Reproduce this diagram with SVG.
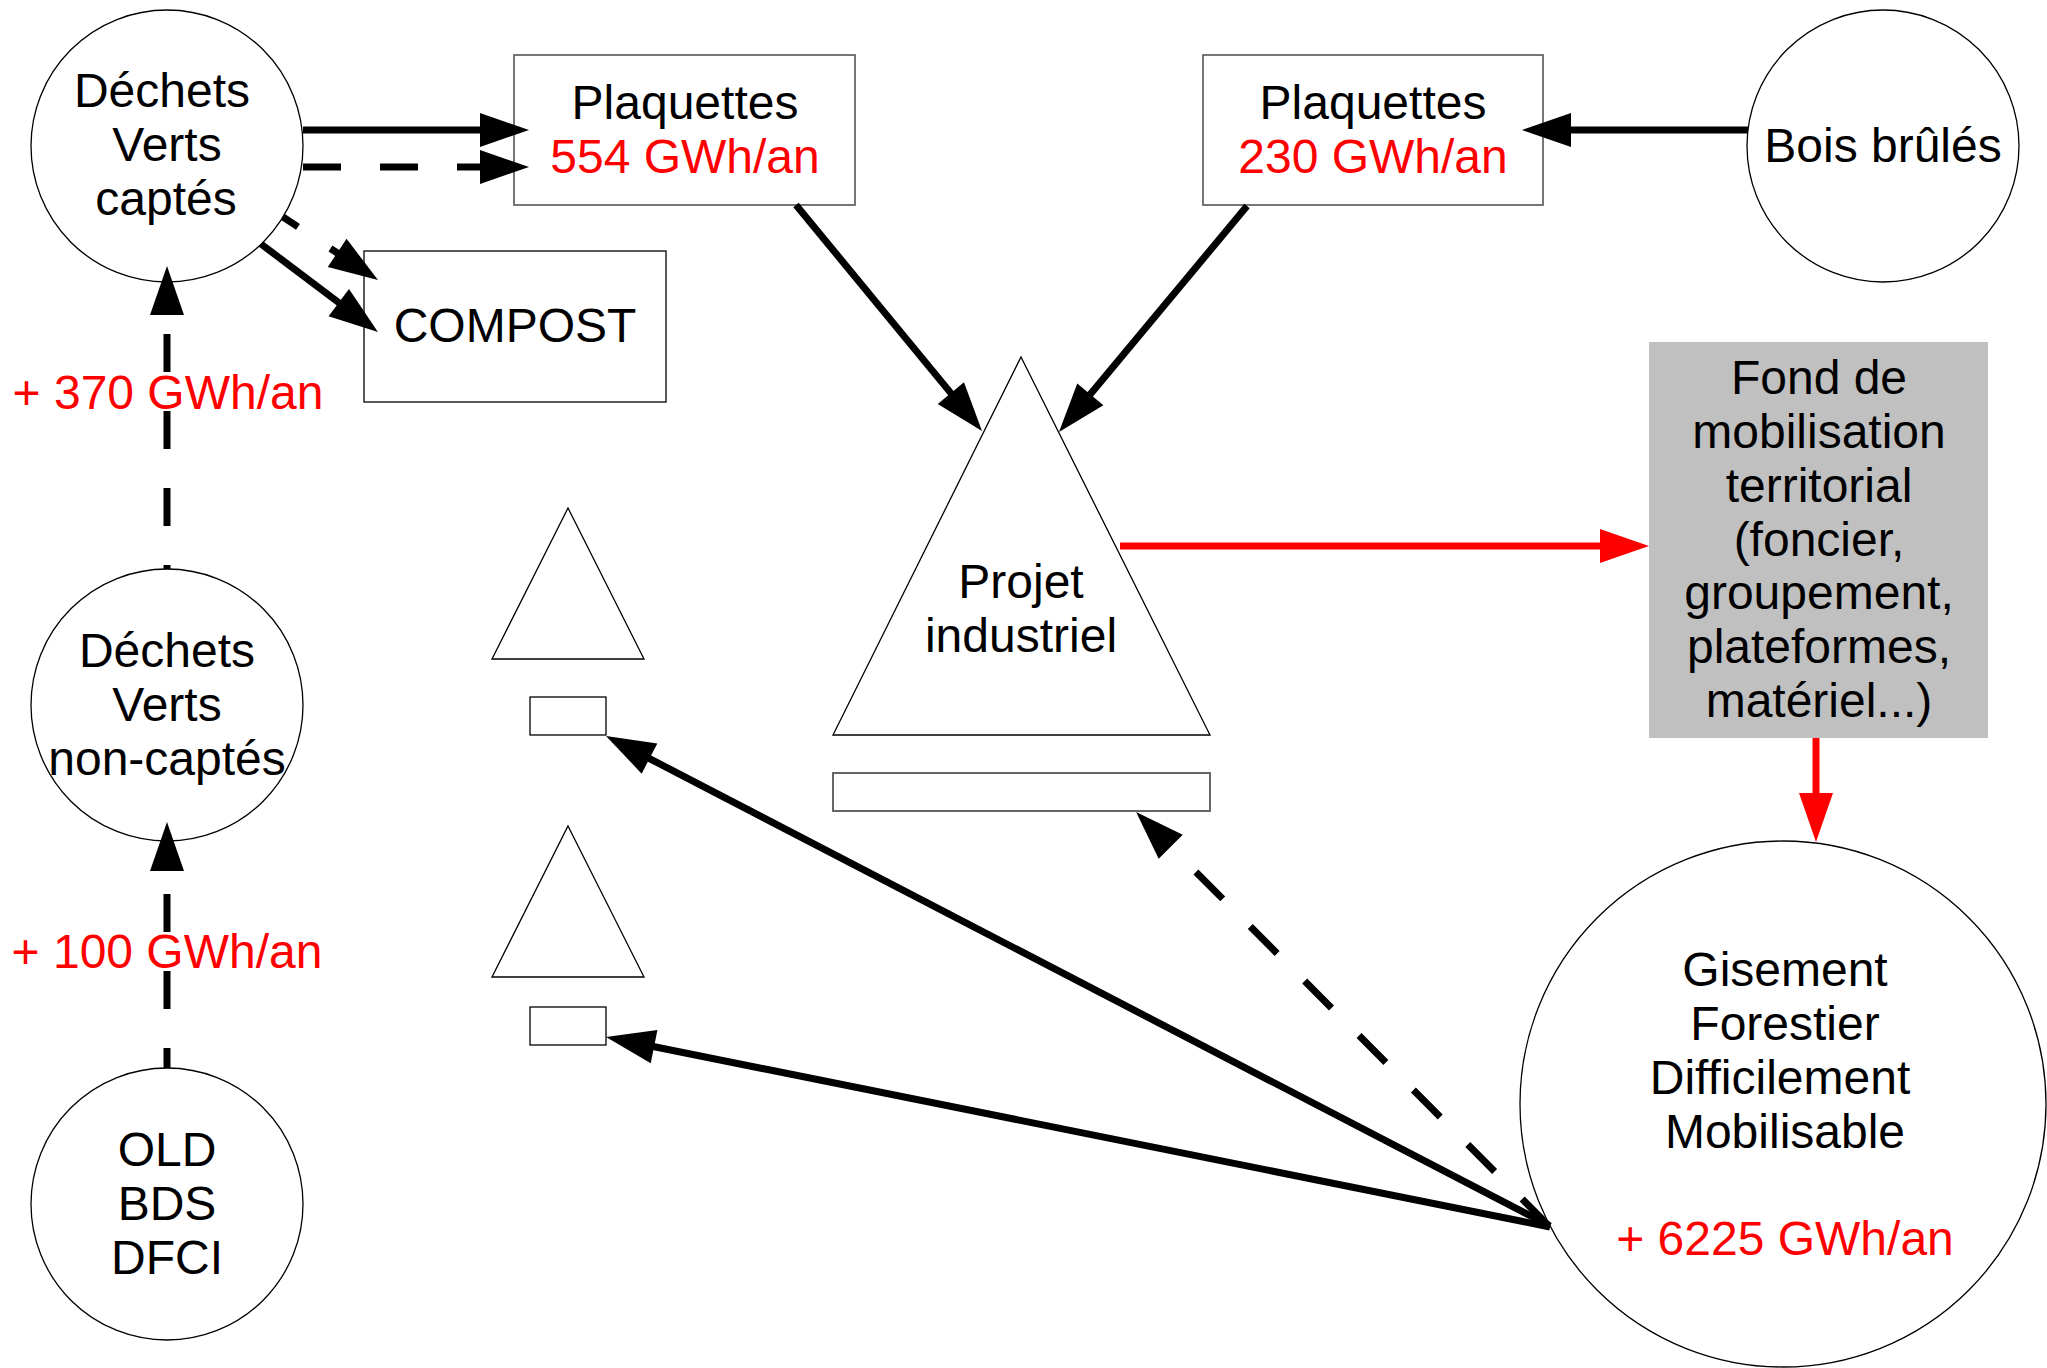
<svg xmlns="http://www.w3.org/2000/svg" width="2047" height="1368" viewBox="0 0 2047 1368">
  <style>
    text { font-family: "Liberation Sans", Arial, sans-serif; font-size: 48px; text-anchor: middle; fill: #000; }
    .val { fill: #ff0000; }
    .shape { fill: #fff; stroke: #000; stroke-width: 1.3; }
    .box { fill: #fff; stroke: #555; stroke-width: 1.6; }
    .line { fill: none; stroke: #000; stroke-width: 7; }
    .dash { stroke-dasharray: 38 39; }
    .red { fill: none; stroke: #ff0000; stroke-width: 7; }
  </style>
  <defs>
    <marker id="ah" markerUnits="userSpaceOnUse" markerWidth="50" markerHeight="34" refX="1" refY="17" orient="auto" overflow="visible">
      <path d="M0,0 L49,17 L0,34 Z" fill="#000"/>
    </marker>
    <marker id="ahRed" markerUnits="userSpaceOnUse" markerWidth="50" markerHeight="34" refX="1" refY="17" orient="auto" overflow="visible">
      <path d="M0,0 L49,17 L0,34 Z" fill="#ff0000"/>
    </marker>
  </defs>

  <rect width="2047" height="1368" fill="#fff"/>

  <g id="dv-captes">
    <circle class="shape" cx="167" cy="146" r="136"/>
    <text x="162" y="107">Déchets</text>
    <text x="167" y="161">Verts</text>
    <text x="166" y="215">captés</text>
  </g>

  <g id="dv-non-captes">
    <circle class="shape" cx="167" cy="705" r="136"/>
    <text x="167" y="667">Déchets</text>
    <text x="167" y="721">Verts</text>
    <text x="167" y="775">non-captés</text>
  </g>

  <g id="old-bds-dfci">
    <circle class="shape" cx="167" cy="1204" r="136"/>
    <text x="167" y="1166">OLD</text>
    <text x="167" y="1220">BDS</text>
    <text x="167" y="1274">DFCI</text>
  </g>

  <g id="plaquettes-554">
    <rect class="box" x="514" y="55" width="341" height="150"/>
    <text x="685" y="119">Plaquettes</text>
    <text class="val" x="685" y="173">554 GWh/an</text>
  </g>

  <g id="plaquettes-230">
    <rect class="box" x="1203" y="55" width="340" height="150"/>
    <text x="1373" y="119">Plaquettes</text>
    <text class="val" x="1373" y="173">230 GWh/an</text>
  </g>

  <g id="bois-brules">
    <circle class="shape" cx="1883" cy="146" r="136"/>
    <text x="1883" y="162">Bois brûlés</text>
  </g>

  <g id="compost">
    <rect class="shape" x="364" y="251" width="302" height="151"/>
    <text x="515" y="342">COMPOST</text>
  </g>

  <g id="projet-industriel">
    <polygon class="shape" points="1021,357 1210,735 833,735"/>
    <rect class="box" x="833" y="773" width="377" height="38" style="stroke:#666;stroke-width:2"/>
    <text x="1021" y="598">Projet</text>
    <text x="1021" y="652">industriel</text>
  </g>

  <g id="projet-petit-1">
    <polygon class="shape" points="568,508 644,659 492,659"/>
    <rect class="shape" x="530" y="697" width="76" height="38"/>
  </g>

  <g id="projet-petit-2">
    <polygon class="shape" points="568,826 644,977 492,977"/>
    <rect class="shape" x="530" y="1007" width="76" height="38"/>
  </g>

  <g id="fond-mobilisation">
    <rect x="1649" y="342" width="339" height="396" fill="#c0c0c0"/>
    <text x="1819" y="394">Fond de</text>
    <text x="1819" y="448">mobilisation</text>
    <text x="1819" y="502">territorial</text>
    <text x="1819" y="556">(foncier,</text>
    <text x="1819" y="609">groupement,</text>
    <text x="1819" y="663">plateformes,</text>
    <text x="1819" y="717">matériel...)</text>
  </g>

  <g id="gisement-forestier">
    <circle class="shape" cx="1783" cy="1104" r="263"/>
    <text x="1785" y="986">Gisement</text>
    <text x="1785" y="1040">Forestier</text>
    <text x="1780" y="1094">Difficilement</text>
    <text x="1785" y="1148">Mobilisable</text>
    <text class="val" x="1785" y="1255">+ 6225 GWh/an</text>
  </g>

  <g id="connectors">
    <!-- green waste flows -->
    <line class="line" x1="303" y1="130" x2="481" y2="130" marker-end="url(#ah)"/>
    <line class="line dash" x1="303" y1="167" x2="481" y2="167" marker-end="url(#ah)"/>
    <line class="line dash" x1="283" y1="217" x2="338" y2="253.5" stroke-dashoffset="20" marker-end="url(#ah)"/>
    <line class="line" x1="261" y1="244" x2="339.6" y2="303.2" marker-end="url(#ah)"/>
    <line class="line dash" x1="167" y1="569" x2="167" y2="314" stroke-dashoffset="34" marker-end="url(#ah)"/>
    <line class="line dash" x1="167" y1="1068" x2="167" y2="870" stroke-dashoffset="18" marker-end="url(#ah)"/>

    <!-- wood chips to the industrial project -->
    <line class="line" x1="796" y1="205" x2="951.5" y2="393.9" marker-end="url(#ah)"/>
    <line class="line" x1="1247" y1="206" x2="1089.7" y2="395.1" marker-end="url(#ah)"/>
    <line class="line" x1="1748" y1="130" x2="1570" y2="130" marker-end="url(#ah)"/>

    <!-- mobilisation fund -->
    <line class="red" x1="1120" y1="546" x2="1601" y2="546" marker-end="url(#ahRed)"/>
    <line class="red" x1="1816" y1="738" x2="1816" y2="794" marker-end="url(#ahRed)"/>

    <!-- forest resource to projects -->
    <line class="line dash" x1="1549" y1="1226" x2="1170" y2="846" marker-end="url(#ah)"/>
    <line class="line" x1="1550" y1="1226" x2="648.6" y2="758.1" marker-end="url(#ah)"/>
    <line class="line" x1="1550" y1="1227" x2="653.1" y2="1046.5" marker-end="url(#ah)"/>

    <!-- flow labels -->
    <text class="val" x="168" y="409">+ 370 GWh/an</text>
    <text class="val" x="167" y="968">+ 100 GWh/an</text>
  </g>
</svg>
